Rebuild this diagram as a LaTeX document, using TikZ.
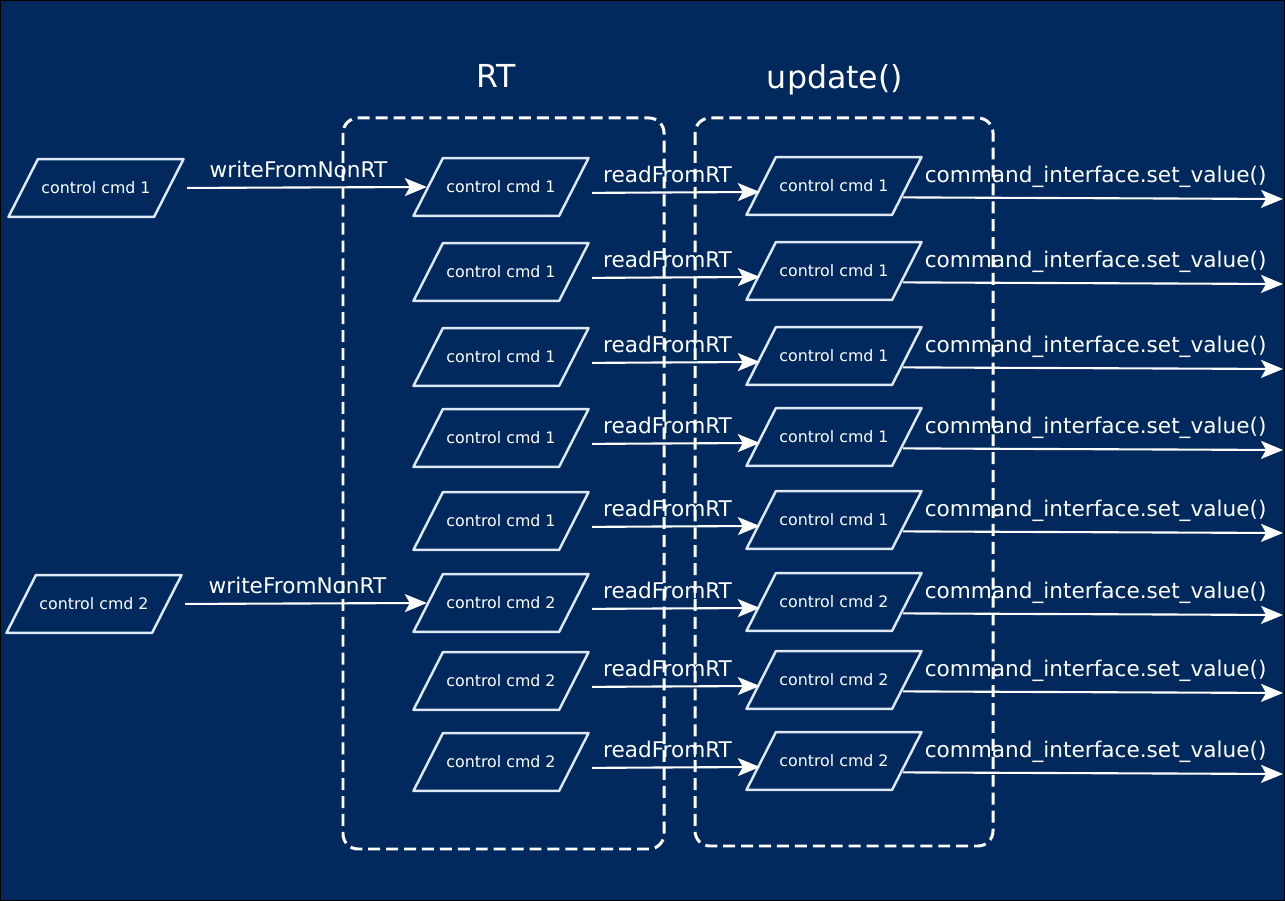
\documentclass[tikz,border=0pt]{standalone}
\usepackage{fontspec}
\setmainfont{DejaVu Sans}
\usetikzlibrary{shapes.geometric,arrows.meta}
\definecolor{navy}{RGB}{1,41,94}
\definecolor{pale}{RGB}{222,232,242}
\tikzset{
  cmd/.style={trapezium, trapezium left angle=63, trapezium right angle=117,
    draw=pale, line width=1.4pt, inner xsep=2pt, inner ysep=13pt,
    text=white, font=\fontsize{9}{10}\selectfont},
  arr/.style={draw=white, line width=1.2pt,
    -{Stealth[length=0.44cm,width=0.36cm,inset=0.1cm]}},
  lbl/.style={above=3pt, inner sep=2pt, text=white, font=\fontsize{12.3}{14}\selectfont},
  zone/.style={draw=white, line width=1.7pt, dash pattern=on 6.8pt off 3.4pt, rounded corners=0.3cm},
  title/.style={text=white, font=\fontsize{18}{21}\selectfont}
}
\begin{document}
\begin{tikzpicture}[x=0.02cm, y=-0.02cm, line join=round]
	\useasboundingbox (0,0) rectangle (1285,901);
	\fill[navy] (0,0) rectangle (1285,901);
	\draw[black, line width=1pt] (0.5,0.5) rectangle (1284.5,900.5);
	% titles
	\node[title] (tRT) at (496,76) {RT};
	\node[title] (tUp) at (835,80) {update()};
	% non-RT side
	\node[cmd] (l1) at (96,188) {control cmd 1};
	\node[cmd] (l2) at (94,604) {control cmd 2};
	% rows: RT buffer -> update()
	\foreach \i/\y/\n in {1/187/1,2/272/1,3/357/1,4/438/1,5/521/1,6/603/2,7/681/2,8/762/2}{
		\node[cmd] (r\i) at (501,\y) {control cmd \n};
		\node[cmd] (u\i) at (834,\y-1) {control cmd \n};
		\coordinate (o\i) at (1283,\y+12);
		\draw[arr, shorten <=0.34cm] ([yshift=-3.4pt]r\i.east) -- node[lbl] {readFromRT} ([yshift=-3.4pt]u\i.west);
		\draw[arr, shorten <=-0.1cm] ([yshift=-6.5pt]u\i.east) -- node[lbl, above=0.5pt] {command\_interface.set\_value()} (o\i);
	}
	\draw[arr, shorten <=0.34cm] (l1.east) -- node[lbl] {writeFromNonRT} (r1.west);
	\draw[arr, shorten <=0.34cm] (l2.east) -- node[lbl] {writeFromNonRT} (r6.west);
	% dashed zones
	\draw[zone] (343,118) rectangle (664,849);
	\draw[zone] (695,118) rectangle (993,846);
\end{tikzpicture}
\end{document}
